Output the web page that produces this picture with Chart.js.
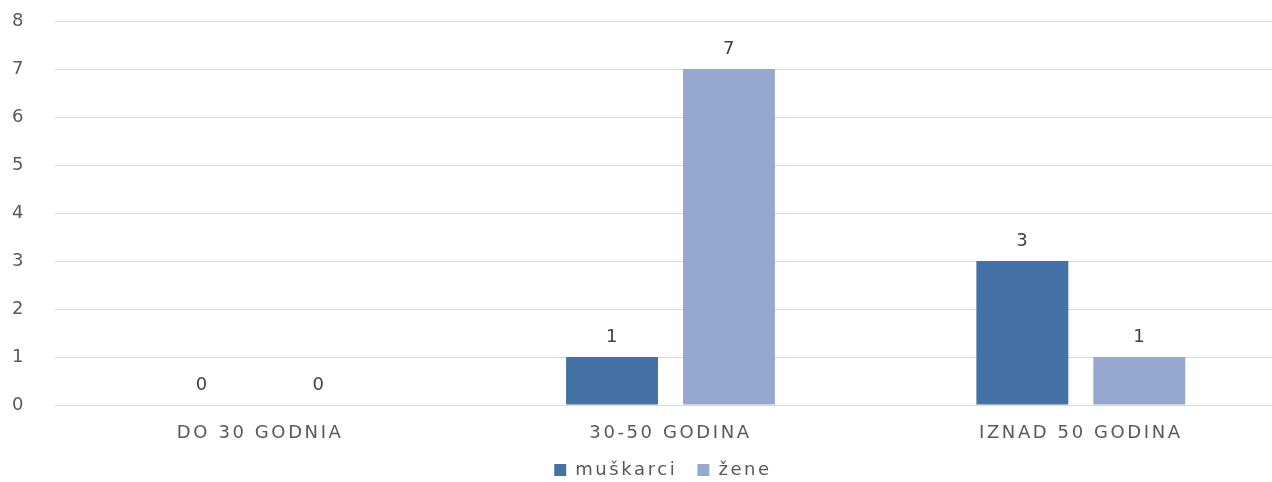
<!DOCTYPE html>
<html>
<head>
<meta charset="utf-8">
<script src="https://cdn.jsdelivr.net/npm/chart.js@4.4.1/dist/chart.umd.min.js"></script>
<style>
  html, body { margin: 0; padding: 0; background: #ffffff; overflow: hidden; width: 1272px; height: 482px; }
  /* plot runs a little past the right window edge so gridlines reach it */
  #wrap { width: 1286px; height: 482px; position: relative; }
</style>
</head>
<body>
<div id="wrap"><canvas id="c"></canvas></div>
<script>
const categories = ['DO 30 GODNIA', '30-50 GODINA', 'IZNAD 50 GODINA'];
const muskarci = [0, 1, 3];
const zene = [0, 7, 1];
const yTicks = [0, 1, 2, 3, 4, 5, 6, 7, 8];

const FONT = 'DejaVu Sans';
const SIZE = 18;
const SPACING = '2.6px';
const LEGEND_H = 40;

// Spaced lettering for all canvas text, plus a fixed-height legend row
const spacingPlugin = {
  id: 'spacing',
  beforeLayout(chart) {
    chart.ctx.letterSpacing = SPACING;
    const lg = chart.legend;
    if (lg && !lg._fixedFit) {
      const fit = lg.fit.bind(lg);
      lg.fit = function () { fit(); this.height = LEGEND_H; };
      lg._fixedFit = true;
    }
  },
  beforeDraw(chart) { chart.ctx.letterSpacing = SPACING; },
  // centre the legend row under the visible plot
  afterLayout(chart) {
    const lg = chart.legend;
    if (!lg) return;
    lg.top = 470 - 10 - (lg.options.labels.padding || 0) + 1;
    lg.bottom = lg.top + LEGEND_H;
    lg.left -= 7.5;
    lg.right -= 7.5;
  }
};

// Value labels above each bar, including zero values
const valueLabels = {
  id: 'valueLabels',
  afterDatasetsDraw(chart) {
    const ctx = chart.ctx;
    ctx.save();
    ctx.letterSpacing = SPACING;
    ctx.font = SIZE + 'px "' + FONT + '"';
    ctx.fillStyle = '#404040';
    ctx.textAlign = 'center';
    ctx.textBaseline = 'middle';
    chart.data.datasets.forEach((ds, i) => {
      chart.getDatasetMeta(i).data.forEach((bar, j) => {
        ctx.fillText(String(ds.data[j]), bar.x + 1, bar.y - 20);
      });
    });
    ctx.restore();
  }
};

new Chart(document.getElementById('c'), {
  type: 'bar',
  data: {
    labels: categories,
    datasets: [
      { label: 'muškarci', data: muskarci, backgroundColor: '#4472A6' },
      { label: 'žene', data: zene, backgroundColor: '#95A9D0' }
    ]
  },
  options: {
    responsive: true,
    maintainAspectRatio: false,
    animation: false,
    devicePixelRatio: 1,
    categoryPercentage: 0.570,
    barPercentage: 0.786,
    layout: { padding: { top: 21, right: 0, left: 12, bottom: 0 } },
    plugins: {
      tooltip: { enabled: false },
      legend: {
        position: 'bottom',
        fullSize: false,
        labels: {
          boxWidth: 12,
          boxHeight: 12,
          padding: 20,
          color: '#595959',
          font: { family: FONT, size: SIZE }
        }
      }
    },
    scales: {
      x: {
        afterFit(scale) { scale.height = 37; },
        grid: { display: false, drawTicks: false },
        border: { display: false },
        ticks: {
          color: '#595959',
          padding: 18,
          font: { family: FONT, size: SIZE }
        }
      },
      y: {
        min: 0,
        max: 8,
        afterBuildTicks(scale) { scale.ticks = yTicks.map(v => ({ value: v })); },
        afterFit(scale) { scale.width = 43; },
        grid: { color: '#d9d9d9', lineWidth: 1, drawTicks: false },
        border: { display: false },
        ticks: {
          color: '#595959',
          padding: 3,
          crossAlign: 'far',
          font: { family: FONT, size: SIZE }
        }
      }
    }
  },
  plugins: [spacingPlugin, valueLabels]
});
</script>
</body>
</html>
